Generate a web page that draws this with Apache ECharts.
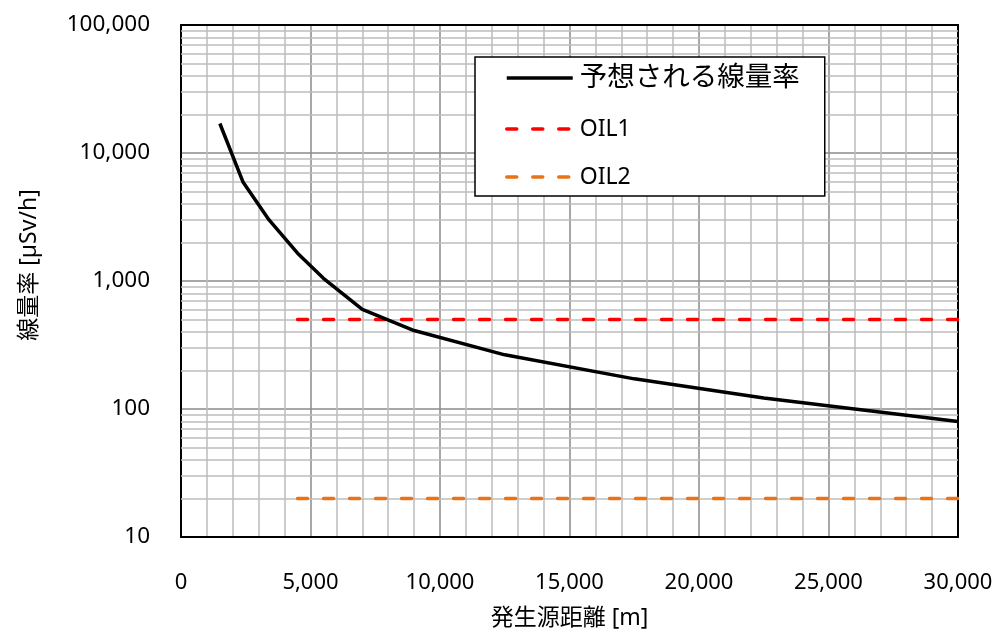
<!DOCTYPE html>
<html>
<head>
<meta charset="utf-8">
<script src="https://cdn.jsdelivr.net/npm/echarts@6/dist/echarts.min.js"></script>
<style>
  html, body { margin: 0; padding: 0; background: #fff; }
  #chart { width: 998px; height: 637px; }
</style>
</head>
<body>
<div id="chart"></div>
<script>
// Expected dose rate versus distance from the release point
const distance = [1500, 2400, 3400, 4500, 5500, 7000, 9000, 12500, 17500, 22500, 30000];
const doseRate = [17000, 5900, 3000, 1650, 1050, 600, 410, 265, 172, 122, 80];

// Operational intervention levels (horizontal reference lines)
const oilX = [4500, 30000];
const oil1Value = 500;
const oil2Value = 20;

// Axis settings
const xMin = 0, xMax = 30000, xStep = 5000;
const yMin = 10, yMax = 100000;
// Minor log gridlines: 2..9 within each decade
const yDecades = [10, 100, 1000, 10000];
const yMinorMultipliers = [2, 3, 4, 5, 6, 7, 8, 9];

const seriesNames = ['予想される線量率', 'OIL1', 'OIL2'];

const FONT = "'Noto Sans', 'Noto Sans CJK JP', sans-serif";
const MAJOR_GRID = '#8a8a8a';
const MINOR_GRID = '#bcbcbc';
const LINE_W = 3.5;

const yMinorValues = [];
yDecades.forEach(d => yMinorMultipliers.forEach(m => yMinorValues.push(d * m)));

const fmt = v => Number(v).toLocaleString('en-US');

const chart = echarts.init(document.getElementById('chart'), null, { renderer: 'canvas' });

chart.setOption({
  animation: false,
  backgroundColor: '#fff',
  textStyle: { fontFamily: FONT },
  grid: { left: 181, right: 40, top: 25, bottom: 100, containLabel: false },
  legend: {
    orient: 'vertical',
    left: 475,
    top: 57,
    padding: [6, 25, 7, 30],
    itemGap: 24,
    itemWidth: 66,
    itemHeight: 14,
    backgroundColor: '#fff',
    borderColor: '#000',
    borderWidth: 1.5,
    borderRadius: 0,
    itemStyle: { opacity: 0 },
    lineStyle: { width: LINE_W },
    textStyle: { fontFamily: FONT, fontSize: 23, color: '#000', lineHeight: 24, padding: [0, 0, 0, 2] },
    data: [
      { name: seriesNames[0], textStyle: { fontSize: 27.5, lineHeight: 30 } },
      { name: seriesNames[1] },
      { name: seriesNames[2] }
    ]
  },
  xAxis: [
    {
      type: 'value',
      min: xMin, max: xMax, interval: xStep,
      position: 'bottom',
      axisLine: { show: true, onZero: false, lineStyle: { color: '#000', width: 2 } },
      axisTick: { show: false },
      axisLabel: { margin: 35, fontSize: 22, color: '#000', fontFamily: FONT, formatter: fmt },
      splitLine: { show: true, lineStyle: { color: MAJOR_GRID, width: 1.5 } },
      minorTick: { show: false, splitNumber: 5 },
      minorSplitLine: { show: true, lineStyle: { color: MINOR_GRID, width: 1.5 } },
      name: '発生源距離 [m]',
      nameLocation: 'middle',
      nameGap: 70,
      nameTextStyle: { fontSize: 23, color: '#000', fontFamily: FONT }
    },
    {
      type: 'value',
      min: xMin, max: xMax,
      position: 'top',
      axisLine: { show: true, onZero: false, lineStyle: { color: '#000', width: 2 } },
      axisTick: { show: false },
      axisLabel: { show: false },
      splitLine: { show: false }
    }
  ],
  yAxis: [
    {
      type: 'log',
      logBase: 10,
      min: yMin, max: yMax,
      position: 'left',
      axisLine: { show: true, onZero: false, lineStyle: { color: '#000', width: 2 } },
      axisTick: { show: false },
      axisLabel: { margin: 31, fontSize: 22.5, color: '#000', fontFamily: FONT, formatter: fmt },
      splitLine: { show: true, lineStyle: { color: MAJOR_GRID, width: 1.5 } },
      name: '線量率 [µSv/h]',
      nameLocation: 'middle',
      nameGap: 140,
      nameRotate: 90,
      nameTextStyle: { fontSize: 23, color: '#000', fontFamily: FONT, padding: [0, 0, 0, 32] }
    },
    {
      type: 'log',
      logBase: 10,
      min: yMin, max: yMax,
      position: 'right',
      axisLine: { show: true, onZero: false, lineStyle: { color: '#000', width: 2 } },
      axisTick: { show: false },
      axisLabel: { show: false },
      splitLine: { show: false }
    }
  ],
  series: [
    {
      // carrier for the minor logarithmic gridlines
      type: 'line',
      data: [],
      z: 1,
      silent: true,
      markLine: {
        z: 1,
        silent: true,
        animation: false,
        symbol: ['none', 'none'],
        label: { show: false },
        lineStyle: { color: MINOR_GRID, width: 1.5, type: 'solid' },
        emphasis: { disabled: true },
        data: yMinorValues.map(v => ({ yAxis: v }))
      }
    },
    {
      name: seriesNames[1],
      type: 'line',
      z: 3,
      symbol: 'none',
      data: oilX.map(x => [x, oil1Value]),
      lineStyle: { color: '#ff0000', width: LINE_W, type: [10, 16], cap: 'round' },
      itemStyle: { color: '#ff0000' }
    },
    {
      name: seriesNames[2],
      type: 'line',
      z: 3,
      symbol: 'none',
      data: oilX.map(x => [x, oil2Value]),
      lineStyle: { color: '#e97316', width: LINE_W, type: [10, 16], cap: 'round' },
      itemStyle: { color: '#e97316' }
    },
    {
      name: seriesNames[0],
      type: 'line',
      z: 4,
      symbol: 'none',
      data: distance.map((x, i) => [x, doseRate[i]]),
      lineStyle: { color: '#000', width: LINE_W },
      itemStyle: { color: '#000' }
    }
  ]
});
</script>
</body>
</html>
